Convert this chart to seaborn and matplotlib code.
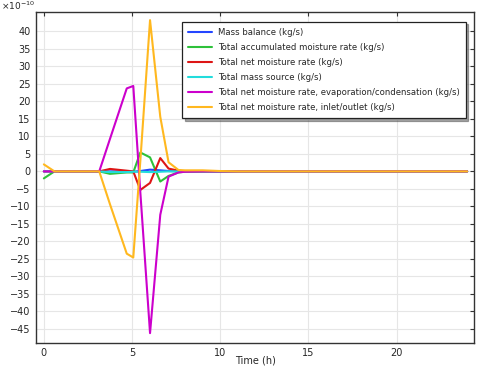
import numpy as np
import pandas as pd
import seaborn as sns
import matplotlib
matplotlib.use("Agg")
import matplotlib.pyplot as plt

time_h = [0, 0.6, 1, 2, 3.14, 3.75, 4.7, 5.07, 5.47, 6.02, 6.6, 7.07, 7.63, 8, 9, 10, 11, 12, 13, 14, 15, 16, 17, 18, 19, 20, 21, 22, 23, 24]
mass_balance = [0, 0, 0, 0, 0, 0, 0, -0.1, 0.1, 0.5, 0.3, 0.1, 0, 0, 0, 0, 0, 0, 0, 0, 0, 0, 0, 0, 0, 0, 0, 0, 0, 0]
accumulated = [-2, 0, 0, 0, 0, -0.7, -0.3, -0.3, 5.4, 4.0, -2.9, -1.3, -0.3, -0.1, 0, 0, 0, 0, 0, 0, 0, 0, 0, 0, 0, 0, 0, 0, 0, 0]
net_moisture = [0, 0, 0, 0, 0, 0.7, 0.2, 0, -5.3, -3.3, 3.8, 0.8, 0.2, 0, 0, 0, 0, 0, 0, 0, 0, 0, 0, 0, 0, 0, 0, 0, 0, 0]
mass_source = [0, 0, 0, 0, 0, -0.2, -0.2, -0.1, -0.1, -0.2, -0.1, 0, 0, 0, 0, 0, 0, 0, 0, 0, 0, 0, 0, 0, 0, 0, 0, 0, 0, 0]
evap_cond = [0, 0, 0, 0, 0, 9.3, 23.7, 24.4, -6, -46.2, -12.4, -1.5, -0.3, -0.1, 0, 0, 0, 0, 0, 0, 0, 0, 0, 0, 0, 0, 0, 0, 0, 0]
inlet_outlet = [2, 0, 0, 0, 0, -9.4, -23.5, -24.6, 3, 43.2, 15.6, 2.6, 0.4, 0.3, 0.3, 0.1, 0, 0, 0, 0, 0, 0, 0, 0, 0, 0, 0, 0, 0, 0]

names = ["Mass balance (kg/s)",
         "Total accumulated moisture rate (kg/s)",
         "Total net moisture rate (kg/s)",
         "Total mass source (kg/s)",
         "Total net moisture rate, evaporation/condensation (kg/s)",
         "Total net moisture rate, inlet/outlet (kg/s)"]
series = [mass_balance, accumulated, net_moisture, mass_source, evap_cond, inlet_outlet]
colors = ["#2446ff", "#2ec13a", "#dd1515", "#22dcdc", "#cc00cc", "#ffb81f"]

rows = []
for n, s in zip(names, series):
    for t, v in zip(time_h, s):
        rows.append({"Time (h)": t, "value": v, "series": n})
df = pd.DataFrame(rows)

sns.set_style("whitegrid", {"grid.color": "#e6e6e6", "axes.edgecolor": "#333333"})
plt.rcParams["font.family"] = ["DejaVu Sans"]

fig = plt.figure(figsize=(4.79, 3.66), dpi=100)
ax = fig.add_axes([0.075, 0.063, 0.915, 0.904])
sns.lineplot(data=df, x="Time (h)", y="value", hue="series", hue_order=names,
             palette=colors, linewidth=1.5, ax=ax, sort=False, estimator=None)

ax.set_xlim(-0.45, 24.4)
ax.set_ylim(-49, 45.5)
ax.set_xticks([0, 5, 10, 15, 20])
ax.set_yticks(np.arange(-45, 41, 5))
ax.tick_params(axis="both", labelsize=7, direction="in", length=3, width=0.8,
               top=True, right=True, color="#333333", pad=4)
ax.set_ylabel("")
ax.set_xlabel("Time (h)", fontsize=7, va="center")
ax.xaxis.set_label_coords(0.5, -0.053)
for sp in ax.spines.values():
    sp.set_linewidth(1.0)
ax.text(-0.08, 1.0, "×10$^{-10}$", transform=ax.transAxes, fontsize=6.5, ha="left", va="bottom")

leg = ax.legend(loc="upper right", bbox_to_anchor=(0.99, 0.984), fontsize=6.1, frameon=True,
                fancybox=False, shadow=True, framealpha=1, edgecolor="#222222",
                handlelength=2.85, handletextpad=0.7, borderpad=0.7, labelspacing=0.72)
leg.get_frame().set_linewidth(0.9)

fig.savefig("out.png", dpi=100)
